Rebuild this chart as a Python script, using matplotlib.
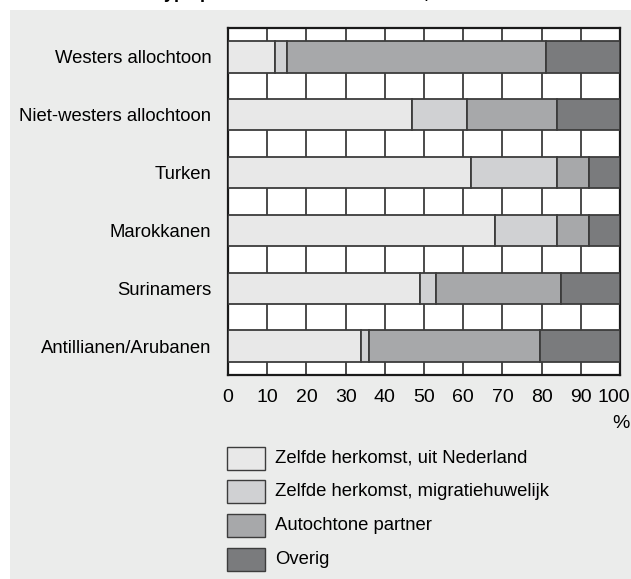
import numpy as np
import matplotlib.pyplot as plt
from matplotlib.patches import Rectangle
from matplotlib.transforms import ScaledTranslation

# Gegevens (percentages)
groepen = ['Westers allochtoon', 'Niet-westers allochtoon', 'Turken',
           'Marokkanen', 'Surinamers', 'Antillianen/Arubanen']
zelfde_nl = [12, 47, 62, 68, 49, 34]
zelfde_migratie = [3, 14, 22, 16, 4, 2]
autochtoon = [66, 23, 8, 8, 32, 43.5]
overig = [19, 16, 8, 8, 15, 20.5]

reeksen = ['Zelfde herkomst, uit Nederland', 'Zelfde herkomst, migratiehuwelijk',
           'Autochtone partner', 'Overig']
kleuren = ['#e8e8e8', '#d0d1d3', '#a7a8aa', '#7a7b7d']
xticks = np.arange(0, 101, 10)

plt.rcParams['font.family'] = ['Liberation Sans', 'DejaVu Sans']

W, H = 631, 579
fig = plt.figure(figsize=(W / 100, H / 100), dpi=100)
fig.patch.set_facecolor('white')

# grijs achtergrondvlak
fig.add_artist(Rectangle((10 / W, 0), 1 - 10 / W, 1 - 10 / H, transform=fig.transFigure,
                         facecolor='#ebeceb', edgecolor='none', zorder=0))

# titel (valt grotendeels buiten de afbeelding, zoals in het origineel)
fig.text(18 / W, 1 + 2 / H, 'Gehuwden naar type partnerkeuze en herkomst, 1999',
         fontsize=13, fontweight='bold', va='baseline', ha='left')

ax = fig.add_axes([228 / W, 1 - 375 / H, 392 / W, 347 / H])
ax.set_facecolor('white')

y = np.arange(len(groepen))
links = np.zeros(len(groepen))
for waarden, kleur in zip([zelfde_nl, zelfde_migratie, autochtoon, overig], kleuren):
    ax.barh(y, waarden, left=links, height=0.54, color=kleur,
            edgecolor='#3c3c3c', linewidth=1.3, zorder=3)
    links += np.array(waarden)

ax.set_xlim(0, 100)
ax.set_ylim(5.5, -0.5)
ax.set_xticks(xticks)
ax.set_xticklabels([str(t) for t in xticks], fontsize=14)
ax.set_yticks(y)
ax.set_yticklabels(groepen, fontsize=13.3)
ax.tick_params(axis='x', length=0, pad=10)
ax.tick_params(axis='y', length=0, pad=12)
ax.xaxis.grid(True, color='#1a1a1a', linewidth=1.1, zorder=1)
ax.set_axisbelow(True)
for s in ax.spines.values():
    s.set_linewidth(1.6)
    s.set_color('#1a1a1a')

# laatste label iets naar links zodat het binnen het beeld blijft
laatste = ax.get_xticklabels()[-1]
laatste.set_transform(laatste.get_transform() + ScaledTranslation(-6 / 100, 0, fig.dpi_scale_trans))

fig.text(621 / W, 1 - 424 / H, '%', fontsize=14, ha='center', va='center')

# legenda
for i, (label, kleur) in enumerate(zip(reeksen, kleuren)):
    yc = 458 + i * 33.7
    fig.add_artist(Rectangle((227 / W, 1 - (yc + 11.5) / H), 38 / W, 23 / H,
                             transform=fig.transFigure, facecolor=kleur,
                             edgecolor='#3c3c3c', linewidth=1.0))
    fig.text(275 / W, 1 - yc / H, label, fontsize=13.3, ha='left', va='center')

fig.savefig('out.png', dpi=100)
